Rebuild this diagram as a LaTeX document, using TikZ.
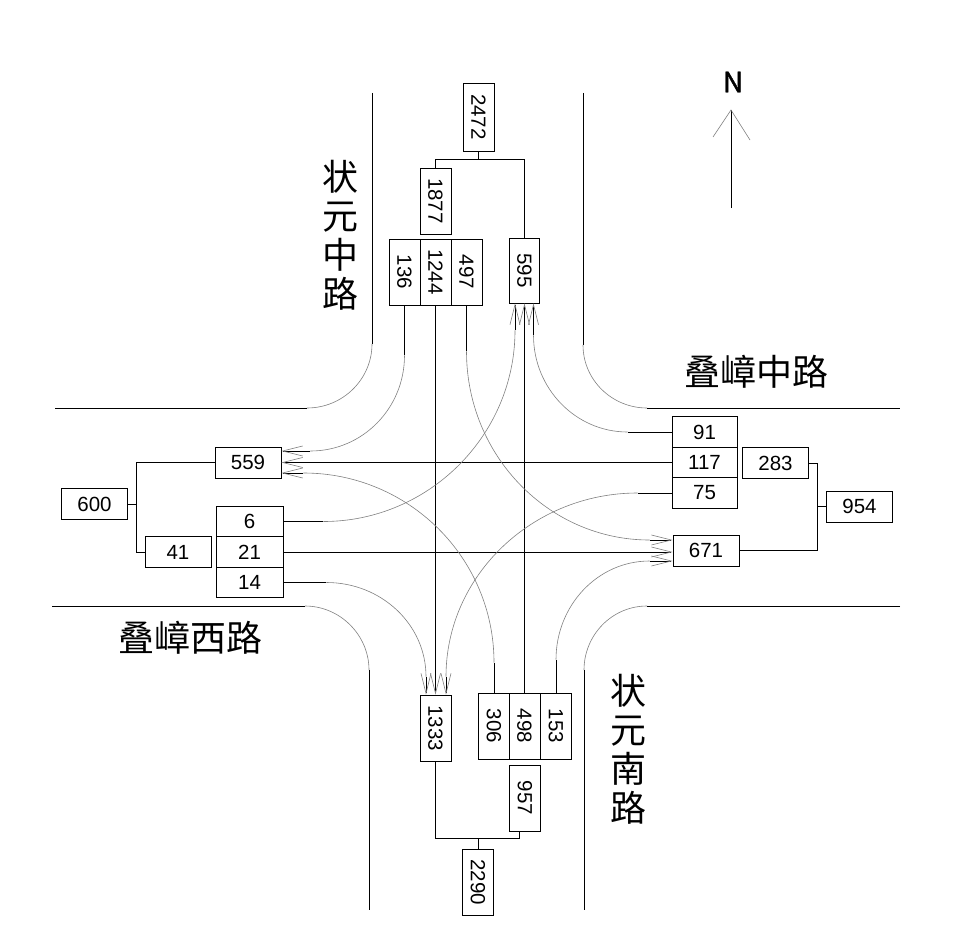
\documentclass[tikz,border=0pt]{standalone}
\usepackage{fontspec}
\setmainfont{Liberation Sans}
\newfontfamily\cjk{Noto Sans CJK SC}
\newfontfamily\cjkbold[FakeBold=1.5]{Noto Sans CJK SC}
\usetikzlibrary{arrows.meta}
\newcommand{\vnum}[1]{\rotatebox{-90}{#1}}

\begin{document}
\begin{tikzpicture}[x=1pt, y=-1pt,
    hbox/.style={draw, line width=0.9pt, minimum width=66pt, minimum height=31pt, inner sep=0pt, font=\fontsize{20.5}{24}\selectfont},
    vbox/.style={hbox, minimum width=31pt, minimum height=66pt},
    link/.style={line width=0.9pt},
    lane/.style={line width=0.9pt},
    turn/.style={gray, line width=0.6pt},
    into/.style={lane, -{Straight Barb[length=20pt, width=10pt, line width=0.6pt, color=gray]}},
    road/.style={line width=1pt},
    curbarc/.style={gray, line width=0.6pt},
    roadname/.style={font=\cjk\fontsize{36}{39}\selectfont, align=center}
]
\useasboundingbox (0,0) rectangle (955,939);

% road edges
\draw[road] (372,93) -- (372,344);
\draw[curbarc] (372,344) .. controls +(0,35) and +(36,0) .. (307,408);
\draw[road] (307,408) -- (55,408);
\draw[road] (583,93) -- (583,345);
\draw[curbarc] (583,345) .. controls +(0,35) and +(-35,0) .. (647,408);
\draw[road] (647,408) -- (900,408);
\draw[road] (52,606) -- (305,606);
\draw[curbarc] (305,606) .. controls +(35,0) and +(0,-35) .. (369,670);
\draw[road] (369,670) -- (369,910);
\draw[road] (900,606) -- (647,606);
\draw[curbarc] (647,606) .. controls +(-35,0) and +(0,-35) .. (584,670);
\draw[road] (584,670) -- (584,910);

% road names
\node[roadname] (zyzl) at (340,235) {状\\元\\中\\路};
\node[roadname] (zynl) at (628,749) {状\\元\\南\\路};
\node[roadname] (dzzl) at (756,372) {叠嶂中路};
\node[roadname] (dzxl) at (190,638) {叠嶂西路};

% north arrow
\node[font=\cjkbold\fontsize{28}{30}\selectfont] (nlabel) at (733,82) {N};
\coordinate (ntip) at (731,110);
\draw[lane] (731,208) -- (ntip);
\draw[turn] (713,137) -- (ntip) -- (750,140);

% north approach
\node[vbox, minimum height=68pt] (ntot) at (478.5,117) {\vnum{2472}};
\node[vbox] (nin) at (435.5,201) {\vnum{1877}};
\node[vbox] (nr) at (404.5,272) {\vnum{136}};
\node[vbox] (ns) at (435.5,272) {\vnum{1244}};
\node[vbox] (nl) at (466.5,272) {\vnum{497}};
\node[vbox, minimum width=30pt, minimum height=65pt] (nout) at (524.5,270.5) {\vnum{595}};

% west approach
\node[hbox] (wtot) at (94.5,504) {600};
\node[hbox] (wout) at (248,462.5) {559};
\node[hbox] (win) at (178,552) {41};
\node[hbox, minimum width=67pt, minimum height=30.5pt] (wl) at (249.5,521.5) {6};
\node[hbox, minimum width=67pt, minimum height=30.5pt] (ws) at (249.5,552) {21};
\node[hbox, minimum width=67pt, minimum height=30.5pt] (wr) at (249.5,582.5) {14};

% east approach
\node[hbox, minimum width=65pt, minimum height=30.5pt] (er) at (704.5,432) {91};
\node[hbox, minimum width=65pt, minimum height=30.5pt] (es) at (704.5,462.5) {117};
\node[hbox, minimum width=65pt, minimum height=30.5pt] (el) at (704.5,493) {75};
\node[hbox] (ein) at (775.5,463) {283};
\node[hbox] (etot) at (859.5,506.5) {954};
\node[hbox] (eout) at (706,550.5) {671};

% south approach
\node[vbox] (sout) at (435.5,728) {\vnum{1333}};
\node[vbox] (sl) at (494,726) {\vnum{306}};
\node[vbox] (ss) at (524.5,726) {\vnum{498}};
\node[vbox] (sr) at (556,726) {\vnum{153}};
\node[vbox] (sin) at (525,798) {\vnum{957}};
\node[vbox] (stot) at (478,882) {\vnum{2290}};

% totals
\draw[link] (ntot.south) -- ++(0,8) coordinate (nj);
\draw[link] (nin.north) |- (nj) -| (nout.north);
\draw[link] (stot.north) -- ++(0,-10) coordinate (sj);
\draw[link] (sout.south) |- (sj) -| ([xshift=-6pt]sin.south);
\draw[link] (wtot.east) -- ++(8,0) coordinate (wj);
\draw[link] (wout.west) -| (wj);
\draw[link] (win.west) -| (wj);
\draw[link] (etot.west) -- ++(-9,0) coordinate (ej);
\draw[link] (ein.east) -| (ej);
\draw[link] (eout.east) -| (ej);

% straight movements
\draw[into] (ns.south) -- (sout.north);
\draw[into] (ss.north) -- (nout.south);
\draw[into] (es.west) -- (wout.east);
\draw[into] (ws.east) -- (ws.east -| eout.west);

% turning movements
\draw[lane] (nr.south) -- ++(0,50) coordinate (nrb);
\draw[turn] (nrb) .. controls +(0,53) and +(52,0) .. ([xshift=29pt, yshift=11.5pt]wout.east) coordinate (nre);
\draw[into] (nre) -- ([yshift=11.5pt]wout.east);

\draw[lane] (nl.south) -- ++(0,46) coordinate (nlb);
\draw[turn] (nlb) .. controls +(0,104) and +(-101,0) .. ([xshift=-23pt, yshift=10.5pt]eout.west) coordinate (nle);
\draw[into] (nle) -- ([yshift=10.5pt]eout.west);

\draw[lane] (wl.east) -- ++(40,0) coordinate (wlb);
\draw[turn] (wlb) .. controls +(105,0) and +(0,105) .. ([xshift=-9.5pt, yshift=-27pt]nout.south) coordinate (wle);
\draw[into] (wle) -- ([xshift=-9.5pt]nout.south);

\draw[lane] (er.west) -- ++(-44,0) coordinate (erb);
\draw[turn] (erb) .. controls +(-52,0) and +(0,53) .. ([xshift=9pt, yshift=-32pt]nout.south) coordinate (ere);
\draw[into] (ere) -- ([xshift=9pt]nout.south);

\draw[lane] (wr.east) -- ++(43,0) coordinate (wrb);
\draw[turn] (wrb) .. controls +(55,0) and +(0,-52) .. ([xshift=-9.5pt, yshift=18pt]sout.north) coordinate (wre);
\draw[into] (wre) -- ([xshift=-9.5pt]sout.north);

\draw[lane] (el.west) -- ++(-34,0) coordinate (elb);
\draw[turn] (elb) .. controls +(-105,0) and +(0,-101) .. ([xshift=10.5pt, yshift=18pt]sout.north) coordinate (ele);
\draw[into] (ele) -- ([xshift=10.5pt]sout.north);

\draw[lane] (sl.north) -- ++(0,-30) coordinate (slb);
\draw[turn] (slb) .. controls +(0,-105) and +(105,0) .. ([xshift=22pt, yshift=-10.5pt]wout.east) coordinate (sle);
\draw[into] (sle) -- ([yshift=-10.5pt]wout.east);

\draw[lane] (sr.north) -- ++(0,-33) coordinate (srb);
\draw[turn] (srb) .. controls +(0,-54) and +(-52,0) .. ([xshift=-23pt, yshift=-10.5pt]eout.west) coordinate (sre);
\draw[into] (sre) -- ([yshift=-10.5pt]eout.west);
\end{tikzpicture}
\end{document}
